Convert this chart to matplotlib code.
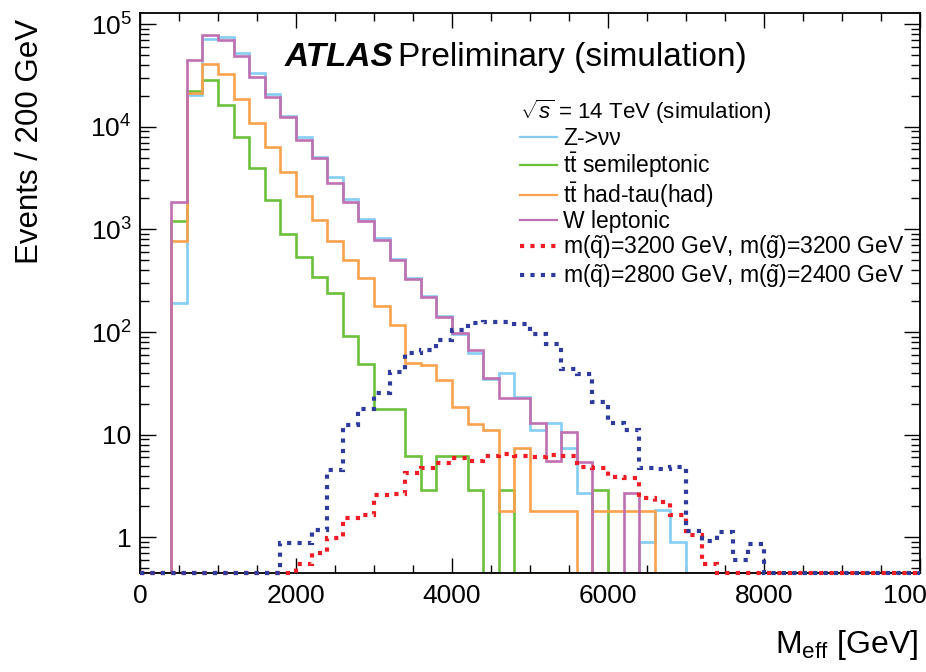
import numpy as np
import matplotlib
matplotlib.use("Agg")
import matplotlib.pyplot as plt
from matplotlib.lines import Line2D
from matplotlib.ticker import MultipleLocator, LogLocator, NullFormatter

plt.rcParams['font.family'] = ['Liberation Sans', 'DejaVu Sans']
plt.rcParams['mathtext.fontset'] = 'custom'
plt.rcParams['mathtext.rm'] = 'Liberation Sans'
plt.rcParams['mathtext.it'] = 'Liberation Sans:italic'
plt.rcParams['mathtext.bf'] = 'Liberation Sans:bold'

# 50 bins of 200 GeV from 0 to 10000 GeV
edges = np.arange(0, 10001, 200)

z_nunu = [0, 0, 190, 20300, 70700, 75000, 52000, 33500, 21000, 12800,
          7900, 5100, 3250, 1960, 1250, 815, 520, 335, 222, 142,
          95, 62, 35, 40, 23.5, 11, 12.9, 7.4, 2.7, 0,
          0, 0, 0.91, 1.85, 0.91, 0, 0, 0, 0, 0,
          0, 0, 0, 0, 0, 0, 0, 0, 0, 0]
tt_semilep = [0, 0, 1200, 22500, 28800, 16200, 7850, 3920, 1930, 910,
              540, 340, 240, 91, 49, 18, 18, 6.2, 2.9, 6.2,
              6.2, 2.9, 0, 2.9, 0, 0, 0, 0, 0, 2.9,
              0, 0, 0, 0, 0, 0, 0, 0, 0, 0,
              0, 0, 0, 0, 0, 0, 0, 0, 0, 0]
tt_hadtau = [0, 0, 776, 21500, 41200, 32500, 18800, 10900, 6330, 3630,
             2100, 1230, 776, 500, 333, 178, 117, 50, 48, 34,
             18.5, 12.7, 11, 1.8, 7.4, 1.8, 1.8, 1.8, 0, 1.8,
             1.8, 1.8, 1.8, 0, 0, 0, 0, 0, 0, 0,
             0, 0, 0, 0, 0, 0, 0, 0, 0, 0]
w_lep = [0, 0, 1860, 44500, 78000, 69700, 48700, 30700, 19300, 12500,
         7500, 4900, 2800, 1860, 1210, 785, 500, 328, 218, 140,
         97, 67, 35.5, 22.6, 22.6, 13, 5.5, 10.7, 5.4, 0,
         0, 2.7, 0, 0, 0, 0, 0, 0, 0, 0,
         0, 0, 0, 0, 0, 0, 0, 0, 0, 0]
sig_3200 = [0, 0, 0, 0, 0, 0, 0, 0, 0, 0,
            0.55, 0.71, 0.98, 1.53, 1.65, 2.6, 2.65, 4.26, 4.7, 5.3,
            5.9, 5.5, 6.2, 6.5, 6.2, 6.1, 6.4, 6.2, 4.9, 4.7,
            3.9, 3.76, 2.4, 2.23, 1.65, 1.05, 0.55, 0, 0, 0,
            0, 0, 0, 0, 0, 0, 0, 0, 0, 0]
sig_2800 = [0, 0, 0, 0, 0, 0, 0, 0, 0, 0.88,
            0.88, 1.18, 4.5, 12.4, 18, 25.3, 41, 63, 67, 84,
            105, 123, 124, 124, 120, 96, 76, 44, 39, 21,
            13, 11, 4.7, 4.6, 4.9, 1.15, 0.93, 1.13, 0.6, 0.87,
            0, 0, 0, 0, 0, 0, 0, 0, 0, 0]

labels = ["Z->\u03bd\u03bd",
          r"$\mathrm{t\bar{t}}$ semileptonic",
          r"$\mathrm{t\bar{t}}$ had-tau(had)",
          "W leptonic",
          r"m($\mathrm{\tilde{q}}$)=3200 GeV, m($\mathrm{\tilde{g}}$)=3200 GeV",
          r"m($\mathrm{\tilde{q}}$)=2800 GeV, m($\mathrm{\tilde{g}}$)=2400 GeV"]
colors = ['#85cdf2', '#6cc03c', '#f9a24e', '#c070b2', '#ee1c25', '#2e3a9c']

ymin, ymax = 0.45, 1.28e5

fig = plt.figure(figsize=(9.26, 6.72), dpi=100)
ax = fig.add_axes([140/926, 1-573/672, 780/926, 560/672])
ax.set_yscale('log')

dotted = (0, (1, 1.5))
series = [z_nunu, tt_semilep, tt_hadtau, w_lep, sig_3200, sig_2800]
handles = []
for i, (vals, col, lab) in enumerate(zip(series, colors, labels)):
    v = np.array(vals, dtype=float)
    v = np.where(v > 0, v, ymin)   # empty bins sit on the frame bottom
    if i < 4:
        ax.stairs(v, edges, baseline=None, color=col, lw=1.9, zorder=2)
        handles.append(Line2D([], [], color=col, lw=1.6))
    else:
        ax.stairs(v, edges, baseline=None, color=col, lw=3.0,
                  linestyle=dotted, zorder=3, clip_on=False)
        handles.append(Line2D([], [], color=col, lw=3.0, linestyle=dotted))

ax.set_xlim(0, 10000)
ax.set_ylim(ymin, ymax)

ax.set_yticks([1, 10, 100, 1e3, 1e4, 1e5])
ax.set_yticklabels(['1', '10', r'$10^{2}$', r'$10^{3}$', r'$10^{4}$', r'$10^{5}$'])
ax.yaxis.set_minor_locator(LogLocator(base=10, subs=np.arange(2, 10)))
ax.yaxis.set_minor_formatter(NullFormatter())
ax.xaxis.set_major_locator(MultipleLocator(2000))
ax.xaxis.set_minor_locator(MultipleLocator(500))

ax.tick_params(which='both', direction='in', top=True, right=True, width=1.0)
ax.tick_params(axis='y', which='major', length=11.5, labelsize=19, pad=6)
ax.tick_params(axis='y', which='minor', length=6.5)
ax.tick_params(axis='x', which='major', length=10.5, labelsize=19, pad=8)
ax.tick_params(axis='x', which='minor', length=5.5)
for sp in ax.spines.values():
    sp.set_linewidth(1.3)

ax.set_ylabel("Events / 200 GeV", fontsize=22.5, loc='top')
ax.yaxis.set_label_coords(-0.122, 0.99)
ax.set_xlabel(r"M$_{\mathrm{eff}}$ [GeV]", fontsize=23, loc='right')
ax.xaxis.set_label_coords(0.997, -0.098)

ax.text(0.186, 0.92, "ATLAS", transform=ax.transAxes, fontsize=24,
        fontweight='bold', fontstyle='italic', va='center', ha='left')
ax.text(0.331, 0.92, "Preliminary (simulation)", transform=ax.transAxes,
        fontsize=24, va='center', ha='left')

leg = ax.legend(handles, labels, loc='upper left',
                bbox_to_anchor=((520-140)/780, (573-98)/560),
                frameon=False, fontsize=16.5, handlelength=1.6,
                handletextpad=0.28, labelspacing=0.02, borderaxespad=0,
                borderpad=0, title=r"$\sqrt{s}$ = 14 TeV (simulation)",
                title_fontsize=16, alignment='left')

fig.savefig("out.png", dpi=100)
